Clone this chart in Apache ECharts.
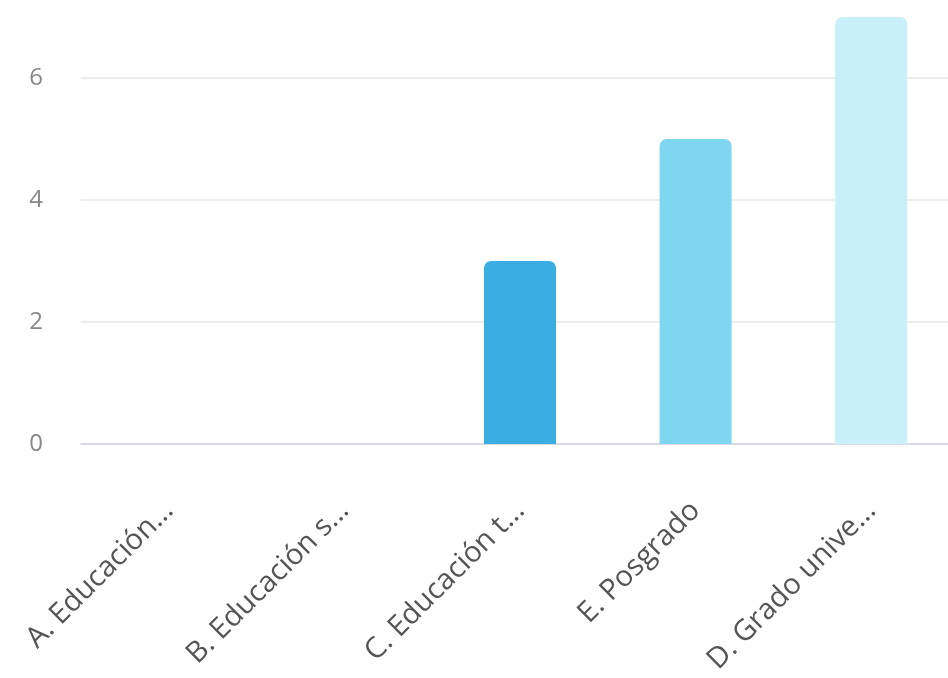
<!DOCTYPE html>
<html><head><meta charset="utf-8">
<script src="https://cdn.jsdelivr.net/npm/echarts@6/dist/echarts.min.js"></script>
<style>html,body{margin:0;padding:0;background:#fff}#c{width:948px;height:678px}</style>
</head><body><div id="c"></div>
<script>
const categories = ["A. Educación...", "B. Educación s...", "C. Educación t...", "E. Posgrado", "D. Grado unive..."];
const values = [0, 0, 3, 5, 7];
const barColors = ["#3aaee3", "#3aaee3", "#3aaee3", "#7fd6f1", "#c9f0fa"];
const yTicks = [0, 2, 4, 6];

const chart = echarts.init(document.getElementById('c'));
chart.setOption({
  animation: false,
  grid: { left: 81, width: 878, top: 17, bottom: 234, containLabel: false, outerBoundsMode: 'none' },
  xAxis: {
    type: 'category', data: categories,
    axisLine: { lineStyle: { color: '#cfd3df', width: 1.5 } },
    axisTick: { show: false },
    axisLabel: { rotate: 45, margin: 62, fontSize: 29, color: '#555', fontFamily: 'Open Sans', interval: 0 }
  },
  yAxis: {
    type: 'value', min: 0, max: 7, interval: 2,
    axisLine: { show: false }, axisTick: { show: false },
    splitLine: { showMaxLine: false, lineStyle: { color: '#e9e9e9', width: 1.5 } },
    axisLabel: { margin: 38, fontSize: 24, color: '#888', fontFamily: 'Open Sans', showMaxLabel: false,
      formatter: v => yTicks.includes(v) ? String(v) : '' }
  },
  series: [{
    type: 'bar', barWidth: 72,
    data: values.map((v, i) => ({ value: v, itemStyle: { color: barColors[i], borderRadius: [7, 7, 0, 0] } }))
  }]
});
</script></body></html>
